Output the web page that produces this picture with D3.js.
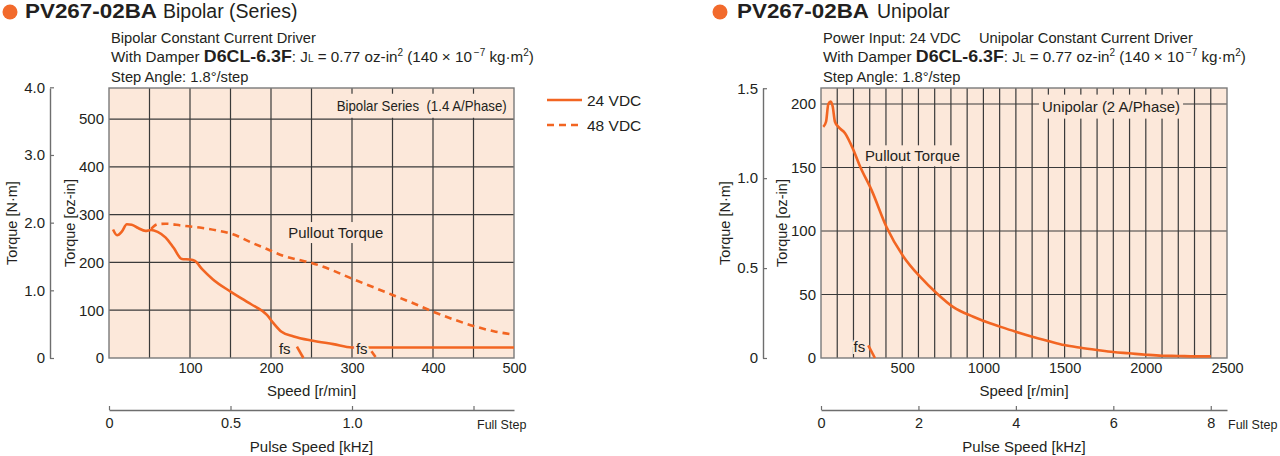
<!DOCTYPE html>
<html><head><meta charset="utf-8">
<script src="https://cdn.jsdelivr.net/npm/d3@7"></script>
<style>
body{margin:0;background:#fff;}
svg text{font-family:"Liberation Sans",Arial,Helvetica,sans-serif;fill:#231f20;}
</style></head><body>
<svg id="c" width="1280" height="456"></svg>
<script>
// ---------------- DATA ----------------
// Left chart: Bipolar (Series)
const bipSpeedTicks = [100, 200, 300, 400, 500];
const bipSpeedGrid = [50, 100, 150, 200, 250, 300, 350, 400, 450];
const bipOzTicks = [0, 100, 200, 300, 400, 500];
const bipNmTicks = [0, 1, 2, 3, 4];
const bipPulseTicks = [0, 0.5, 1.0, 1.5];
const bip24Speed  = [5, 10, 16, 22, 28, 36, 45, 52, 60, 70, 80, 90, 100, 106, 115, 128, 150, 175, 195, 203, 213, 228, 252, 277, 300, 320, 400, 500];
const bip24Torque = [269, 257, 265, 280, 279, 272, 266, 268, 264, 252, 230, 207, 206, 203, 186, 165, 139, 113, 90, 73, 55, 45, 36, 29, 22, 22, 22, 22];
const bip48Speed  = [52, 60, 70, 90, 112, 133, 153, 174, 195, 215, 235, 250, 275, 300, 325, 350, 375, 400, 425, 450, 475, 500];
const bip48Torque = [270, 280, 281, 277, 273, 267, 259, 243, 228, 214, 205, 199, 184, 166, 149, 132, 115, 97, 81, 67, 56, 49];
const bipFs24Speed = [232, 240];
const bipFs24Torque = [24, 0];
const bipFs48Speed = [324, 330];
const bipFs48Torque = [14, 0];

// Right chart: Unipolar
const uniSpeedTicks = [500, 1000, 1500, 2000, 2500];
const uniSpeedGrid = [100, 200, 300, 400, 500, 600, 700, 800, 900, 1000, 1100, 1200, 1300, 1400, 1500, 1600, 1700, 1800, 1900, 2000, 2100, 2200, 2300, 2400];
const uniOzTicks = [0, 50, 100, 150, 200];
const uniNmTicks = [0, 0.5, 1.0, 1.5];
const uniPulseTicks = [0, 2, 4, 6, 8];
const uniSpeed  = [14, 31, 45, 60, 72, 86, 107, 148, 199, 240, 312, 404, 507, 610, 712, 815, 938, 1041, 1102, 1199, 1301, 1400, 1498, 1599, 1701, 1800, 1897, 2000, 2100, 2200, 2300, 2400];
const uniTorque = [182, 186, 200, 202, 198, 186, 182, 177, 164, 151, 132, 103, 80, 64, 51, 40, 32.5, 27.3, 24.7, 20.7, 16.8, 13.4, 10.2, 8.1, 6.3, 4.7, 3.7, 2.6, 1.8, 1.6, 1.3, 1.3];
const uniFsSpeed = [291, 332];
const uniFsTorque = [10, 0];

// ---------------- STYLE ----------------
const BG = '#fce8da', ORANGE = '#f26522', GRID = '#3a3a3a', FRAME = '#7a7a7a', AXIS = '#6e6e6e';
const OZ_PER_NM = 141.612;
const svg = d3.select('#c');
const PLOT_TOP = 88, PLOT_BOT = 358;

function boxed(g, px, py, str, padX, padY, size, len) {
  const t = g.append('text').attr('x', px).attr('y', py).attr('text-anchor', 'middle')
    .attr('dy', '0.35em').attr('font-size', size || 15).text(str);
  if (len) t.attr('textLength', len).attr('lengthAdjust', 'spacingAndGlyphs');
  const b = t.node().getBBox();
  g.insert('rect', () => t.node()).attr('x', b.x - padX).attr('y', b.y - padY)
    .attr('width', b.width + 2 * padX).attr('height', b.height + 2 * padY).attr('fill', BG);
  return t;
}

function drawChart(o) {
  const g = svg.append('g');
  const x = d3.scaleLinear().domain([0, o.xMax]).range([o.left, o.right]);
  const y = d3.scaleLinear().domain([0, o.yMax]).range([PLOT_BOT, PLOT_TOP]);
  const yNm = d3.scaleLinear().domain([0, o.yMax / OZ_PER_NM]).range([PLOT_BOT, PLOT_TOP]);
  const xPulse = d3.scaleLinear().domain([0, o.xMax / 300]).range([o.left, o.right]);

  // background
  g.append('rect').attr('x', x(0)).attr('y', y(o.yMax))
    .attr('width', x(o.xMax) - x(0)).attr('height', y(0) - y(o.yMax)).attr('fill', BG);
  // grid
  g.append('g').selectAll('line').data(o.xGrid).join('line')
    .attr('x1', d => x(d)).attr('x2', d => x(d)).attr('y1', y(0)).attr('y2', y(o.yMax))
    .attr('stroke', GRID).attr('stroke-width', 1.2);
  g.append('g').selectAll('line').data(o.ozTicks.filter(d => d > 0)).join('line')
    .attr('x1', x(0)).attr('x2', x(o.xMax)).attr('y1', d => y(d)).attr('y2', d => y(d))
    .attr('stroke', GRID).attr('stroke-width', 1.2);

  // top-right label
  boxed(g, x(o.topLabel[0]), y(o.topLabel[1]), o.topLabelText, 3, 4, 14.5, o.topLabelLen);
  // pullout label
  boxed(g, x(o.pullLabel[0]), y(o.pullLabel[1]), 'Pullout Torque', 3, 2, 15, 95);

  // frame
  g.append('rect').attr('x', x(0)).attr('y', y(o.yMax))
    .attr('width', x(o.xMax) - x(0)).attr('height', y(0) - y(o.yMax))
    .attr('fill', 'none').attr('stroke', FRAME).attr('stroke-width', 1.4);

  const line = d3.line().x(d => x(d[0])).y(d => y(d[1])).curve(d3.curveMonotoneX);
  o.series.forEach(s => {
    g.append('path').datum(d3.zip(s.speed, s.torque)).attr('d', line)
      .attr('fill', 'none').attr('stroke', ORANGE).attr('stroke-width', 2.6)
      .attr('stroke-dasharray', s.dash ? '7,5' : null).attr('stroke-linejoin', 'round');
  });
  // fs labels (with halo to break the curve)
  o.fsLabels.forEach(p => {
    g.append('text').attr('x', x(p[0])).attr('y', y(p[1])).attr('dy', '0.35em')
      .attr('text-anchor', 'middle').attr('font-size', 15)
      .attr('stroke', BG).attr('stroke-width', 4).attr('paint-order', 'stroke').text('fs');
  });

  // N·m axis
  const aNm = g.append('g').attr('transform', `translate(${o.nmX},0)`)
    .call(d3.axisLeft(yNm).tickValues(o.nmTicks).tickSizeInner(-4).tickSizeOuter(0).tickPadding(5)
      .tickFormat(d => d === 0 ? '0' : d3.format('.1f')(d)));
  aNm.select('.domain').attr('stroke', AXIS).attr('stroke-width', 1.4);
  aNm.selectAll('.tick line').attr('stroke', AXIS).attr('stroke-width', 1.2);
  aNm.selectAll('text').attr('font-size', 15).attr('font-family', null).attr('fill', '#231f20');

  // oz-in axis (labels only)
  const aOz = g.append('g').attr('transform', `translate(${x(0)},0)`)
    .call(d3.axisLeft(y).tickValues(o.ozTicks).tickSize(0).tickPadding(5).tickFormat(d3.format('d')));
  aOz.select('.domain').remove();
  aOz.selectAll('text').attr('font-size', 15).attr('font-family', null).attr('fill', '#231f20');

  // speed axis (labels only)
  const aSp = g.append('g').attr('transform', `translate(0,${y(0)})`)
    .call(d3.axisBottom(x).tickValues(o.speedTicks).tickSize(0).tickPadding(5).tickFormat(d3.format('d')));
  aSp.select('.domain').remove();
  aSp.selectAll('text').attr('font-size', 14.5).attr('font-family', null).attr('fill', '#231f20');

  // pulse axis
  const aP = g.append('g').attr('transform', `translate(0,410)`)
    .call(d3.axisBottom(xPulse).tickValues(o.pulseTicks).tickSizeInner(-4).tickSizeOuter(0).tickPadding(8)
      .tickFormat(o.pulseFmt));
  aP.select('.domain').attr('stroke', AXIS).attr('stroke-width', 1.4);
  aP.selectAll('.tick line').attr('stroke', AXIS).attr('stroke-width', 1.2);
  aP.selectAll('text').attr('font-size', 14.5).attr('font-family', null).attr('fill', '#231f20');

  g.append('text').attr('x', o.fullStepX).attr('y', 429).attr('font-size', 12.5).text('Full Step');

  // axis titles
  const midX = (x(0) + x(o.xMax)) / 2;
  g.append('text').attr('x', midX).attr('y', 396).attr('text-anchor', 'middle').attr('font-size', 15).text('Speed [r/min]');
  g.append('text').attr('x', midX).attr('y', 452).attr('text-anchor', 'middle').attr('font-size', 15).text('Pulse Speed [kHz]');
  g.append('text').attr('transform', `translate(${o.nmTitleX},223) rotate(-90)`).attr('text-anchor', 'middle')
    .attr('dy', '0.35em').attr('font-size', 14.5).text('Torque [N·m]');
  g.append('text').attr('transform', `translate(${x(0) - 39},223) rotate(-90)`).attr('text-anchor', 'middle')
    .attr('dy', '0.35em').attr('font-size', 14.5).text('Torque [oz-in]');
}

function header(cx, boldX, boldEnd, restX, restText, lines) {
  svg.append('circle').attr('cx', cx).attr('cy', 12).attr('r', 7.5).attr('fill', '#f26a2c');
  const t = svg.append('text').attr('y', 18).attr('font-size', 19.5);
  t.append('tspan').attr('x', boldX).attr('font-weight', 'bold').attr('textLength', boldEnd - boldX)
    .attr('lengthAdjust', 'spacingAndGlyphs').text('PV267-02BA');
  t.append('tspan').attr('x', restX).text(restText);
  const lx = boldX + 86;
  const l1 = svg.append('text').attr('x', lx).attr('y', 42.5).attr('font-size', 14.7);
  lines[0].forEach(p => l1.append('tspan').attr('x', p[0] === null ? null : p[0]).text(p[1]));
  const l2 = svg.append('text').attr('x', lx).attr('y', 62).attr('font-size', 15.2);
  l2.append('tspan').text('With Damper ');
  l2.append('tspan').attr('font-weight', 'bold').attr('font-size', 16.5).attr('textLength', 88)
    .attr('lengthAdjust', 'spacingAndGlyphs').text('D6CL-6.3F');
  l2.append('tspan').text(': J');
  l2.append('tspan').attr('font-size', 10).text('L');
  l2.append('tspan').text(' = 0.77 oz-in');
  l2.append('tspan').attr('font-size', 10).attr('dy', -6).text('2');
  l2.append('tspan').attr('dy', 6).text(' (140 \u00d7 10');
  l2.append('tspan').attr('font-size', 10).attr('dy', -6).text('\u2009\u22127');
  l2.append('tspan').attr('dy', 6).text(' kg\u00b7m');
  l2.append('tspan').attr('font-size', 10).attr('dy', -6).text('2');
  l2.append('tspan').attr('dy', 6).text(')');
  svg.append('text').attr('x', lx).attr('y', 81.5).attr('font-size', 14.7).text('Step Angle: 1.8\u00b0/step');
}

header(10, 25, 157, 163, 'Bipolar (Series)', [[[null, 'Bipolar Constant Current Driver']]]);
header(720, 737, 869, 877, 'Unipolar', [[[null, 'Power Input: 24 VDC'], [979, 'Unipolar Constant Current Driver']]]);

drawChart({
  left: 109, right: 514, xMax: 500, yMax: 565, nmX: 50, nmTitleX: 12,
  xGrid: bipSpeedGrid, ozTicks: bipOzTicks, nmTicks: bipNmTicks, speedTicks: bipSpeedTicks,
  pulseTicks: bipPulseTicks, pulseFmt: d => d === 0 ? '0' : (d === 1.5 ? '' : d3.format('.1f')(d)),
  fullStepX: 477,
  topLabel: [386, 528], topLabelText: 'Bipolar Series\u00a0\u00a0(1.4 A/Phase)', topLabelLen: 170,
  pullLabel: [280, 262],
  series: [
    {speed: bip24Speed, torque: bip24Torque, dash: false},
    {speed: bip48Speed, torque: bip48Torque, dash: true},
    {speed: bipFs24Speed, torque: bipFs24Torque, dash: false},
    {speed: bipFs48Speed, torque: bipFs48Torque, dash: true}
  ],
  fsLabels: [[217, 19], [312, 19]]
});

drawChart({
  left: 821, right: 1227, xMax: 2500, yMax: 212.6, nmX: 763, nmTitleX: 725,
  xGrid: uniSpeedGrid, ozTicks: uniOzTicks, nmTicks: uniNmTicks, speedTicks: uniSpeedTicks,
  pulseTicks: uniPulseTicks, pulseFmt: d => String(d),
  fullStepX: 1228,
  topLabel: [1786, 198], topLabelText: 'Unipolar (2 A/Phase)', topLabelLen: 138,
  pullLabel: [563, 159],
  series: [
    {speed: uniSpeed, torque: uniTorque, dash: false},
    {speed: uniFsSpeed, torque: uniFsTorque, dash: false}
  ],
  fsLabels: [[236, 9]]
});

// legend
const legendItems = ['24 VDC', '48 VDC'];
const legendDash = [null, '7,5'];
const leg = svg.append('g');
legendItems.forEach((name, i) => {
  const ly = 100 + i * 25;
  leg.append('line').attr('x1', 547).attr('x2', 582).attr('y1', ly).attr('y2', ly)
    .attr('stroke', ORANGE).attr('stroke-width', 2.6).attr('stroke-dasharray', legendDash[i]);
  leg.append('text').attr('x', 587).attr('y', ly).attr('dy', '0.36em').attr('font-size', 15.5).text(name);
});
</script>
</body></html>
